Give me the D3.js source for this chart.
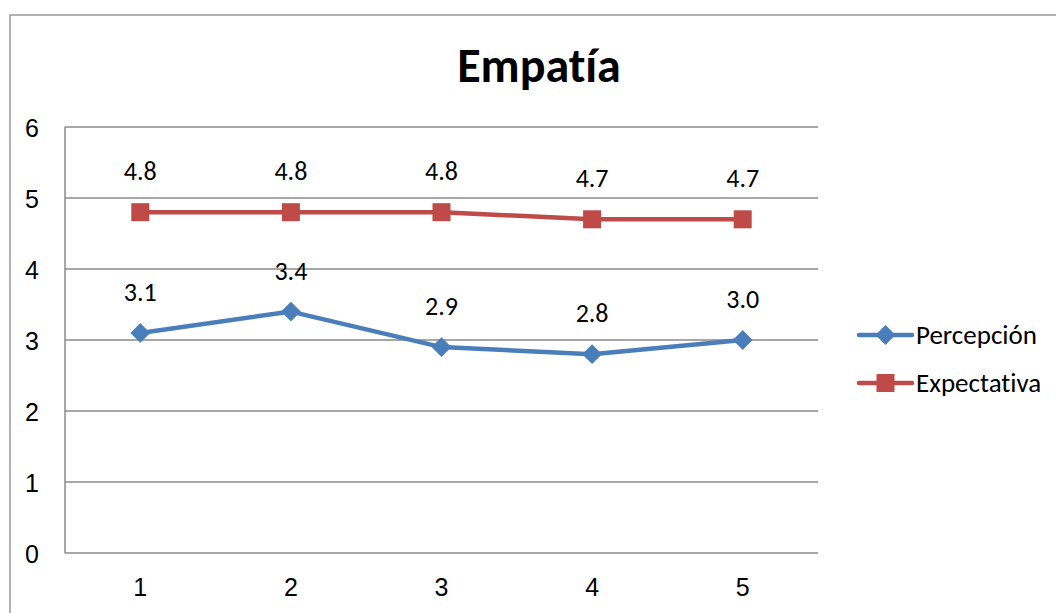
<!DOCTYPE html>
<html><head><meta charset="utf-8">
<script src="https://cdn.jsdelivr.net/npm/d3@7"></script>
<style>
html,body{margin:0;padding:0;background:#fff;}
svg{display:block;font-family:Carlito,Calibri,"Open Sans",Lato,sans-serif;font-variant-ligatures:none;font-feature-settings:"liga" 0;}
</style></head>
<body><svg id="c" width="1056" height="613"></svg>
<script>
const categories = ["1","2","3","4","5"];
const percepcion = [3.1, 3.4, 2.9, 2.8, 3.0];
const expectativa = [4.8, 4.8, 4.8, 4.7, 4.7];
const yTicks = [0,1,2,3,4,5,6];
const seriesNames = ["Percepción","Expectativa"];
const seriesColors = ["#4A7EBB","#BE4B48"];
const title = "Empatía";

const svg = d3.select("#c");
const m = {left:65, right:818, top:127, bottom:553};
const FS = 26;

// outer frame
svg.append("rect").attr("x",10).attr("y",15).attr("width",1100).attr("height",700)
  .attr("fill","#fff").attr("stroke","#898989").attr("stroke-width",1.3);

const x = d3.scaleBand().domain(categories).range([m.left,m.right]);
const y = d3.scaleLinear().domain([0,6]).range([m.bottom,m.top]);

// gridlines
svg.append("g").selectAll("line").data(yTicks).join("line")
  .attr("x1",m.left).attr("x2",m.right)
  .attr("y1",d=>y(d)).attr("y2",d=>y(d))
  .attr("stroke","#8a8a8a").attr("stroke-width",1.5);
svg.append("line").attr("x1",m.left).attr("x2",m.left).attr("y1",m.top).attr("y2",m.bottom)
  .attr("stroke","#8a8a8a").attr("stroke-width",1.5);

const yAxis = svg.append("g").attr("transform",`translate(${m.left},0)`)
  .call(d3.axisLeft(y).tickValues(yTicks).tickSize(0).tickPadding(26).tickFormat(d3.format("d")));
yAxis.select(".domain").remove();
yAxis.selectAll("text").attr("font-size",FS-1).attr("fill","#000").attr("font-family","inherit").attr("dy","0.36em");

const xAxis = svg.append("g").attr("transform",`translate(0,${m.bottom})`)
  .call(d3.axisBottom(x).tickSize(0).tickPadding(25));
xAxis.select(".domain").remove();
xAxis.selectAll("text").attr("font-size",FS-1).attr("fill","#000").attr("font-family","inherit");

// title
svg.append("text").attr("x",539).attr("y",82).attr("text-anchor","middle")
  .attr("font-size",48).attr("font-weight","bold").attr("fill","#000").text(title);

const cx = d => x(d) + x.bandwidth()/2;
const data = [percepcion, expectativa];
const line = d3.line().x((d,i)=>cx(categories[i])).y(d=>y(d));

function drawMarker(g, k, px, py){
  if(k===0){
    g.append("rect").attr("x",px-7).attr("y",py-7).attr("width",14).attr("height",14)
      .attr("transform",`rotate(45,${px},${py})`).attr("fill",seriesColors[0]);
  } else {
    g.append("rect").attr("x",px-9).attr("y",py-9).attr("width",18).attr("height",18)
      .attr("fill",seriesColors[1]);
  }
}

[1,0].forEach(k=>{
  const g = svg.append("g");
  g.append("path").datum(data[k]).attr("d",line).attr("fill","none")
    .attr("stroke",seriesColors[k]).attr("stroke-width",4.5).attr("stroke-linejoin","round");
  data[k].forEach((v,i)=>drawMarker(g,k,cx(categories[i]),y(v)));
  g.selectAll("text").data(data[k]).join("text")
    .attr("x",(d,i)=>cx(categories[i])).attr("y",d=>y(d)-32)
    .attr("text-anchor","middle").attr("font-size",FS).attr("fill","#000")
    .text(d=>d3.format(".1f")(d));
});

// legend
const lg = svg.append("g");
seriesNames.forEach((n,k)=>{
  const ly = 335 + k*48;
  lg.append("line").attr("x1",859).attr("x2",912).attr("y1",ly).attr("y2",ly)
    .attr("stroke",seriesColors[k]).attr("stroke-width",4.5).attr("stroke-linecap","round");
  drawMarker(lg,k,885.5,ly);
  lg.append("text").attr("x",916).attr("y",ly).attr("dy","0.35em")
    .attr("font-size",FS+1).attr("fill","#000").text(n);
});
</script></body></html>
